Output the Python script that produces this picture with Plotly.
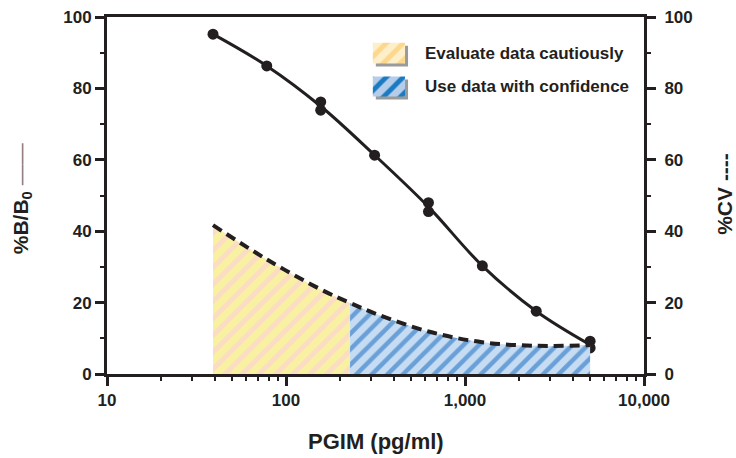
import plotly.graph_objects as go

# ---------------- data ----------------
conc_std = [39.1, 78.1, 156.3, 312.5, 625, 1250, 2500, 5000]
bb0_mean = [95.2, 86.3, 75.0, 61.3, 46.8, 30.3, 17.6, 8.2]

conc_pts = [39.1, 78.1, 156.3, 156.3, 312.5, 625, 625, 1250, 2500, 5000, 5000]
bb0_pts = [95.2, 86.3, 76.2, 73.9, 61.3, 48.0, 45.5, 30.3, 17.6, 9.2, 7.3]

cv_conc = [39.1, 78.1, 156.3, 228, 312.5, 625, 1250, 2500, 5000]
cv_vals = [41.7, 32.1, 23.7, 19.9, 17.0, 11.9, 8.9, 7.9, 8.1]
cv_split = 228  # boundary between "cautious" and "confident" zones

x_tickvals = [10, 100, 1000, 10000]
x_ticktext = ["10", "100", "1,000", "10,000"]
y_tickvals = [0, 20, 40, 60, 80, 100]

legend_labels = ["Evaluate data cautiously", "Use data with confidence"]

# ---------------- styles ----------------
INK = "#231f20"
FONT = "Liberation Sans, Arial, Helvetica, sans-serif"
YEL_BG, YEL_FG = "#f9f1a2", "#fbdcc4"
BLU_BG, BLU_FG = "#c6dcf2", "#6aa0d8"
LYEL_BG, LYEL_FG = "#fdefca", "#fdd88c"
LBLU_BG, LBLU_FG = "#b5cdea", "#1a7bc2"

fig = go.Figure()

# fills under CV curve
yx = [c for c in cv_conc if c <= cv_split]
yy = [v for c, v in zip(cv_conc, cv_vals) if c <= cv_split]
bx = [c for c in cv_conc if c >= cv_split]
by = [v for c, v in zip(cv_conc, cv_vals) if c >= cv_split]

fig.add_trace(go.Scatter(
    x=yx, y=yy, yaxis="y2", mode="lines", line=dict(width=0, shape="spline"),
    fill="tozeroy",
    fillpattern=dict(shape="/", bgcolor=YEL_BG, fgcolor=YEL_FG, size=12,
                     solidity=0.4, fgopacity=1),
    hoverinfo="skip", showlegend=False))
fig.add_trace(go.Scatter(
    x=bx, y=by, yaxis="y2", mode="lines", line=dict(width=0, shape="spline"),
    fill="tozeroy",
    fillpattern=dict(shape="/", bgcolor=BLU_BG, fgcolor=BLU_FG, size=11,
                     solidity=0.4, fgopacity=1),
    hoverinfo="skip", showlegend=False))

# CV dashed curve
fig.add_trace(go.Scatter(
    x=cv_conc, y=cv_vals, yaxis="y2", mode="lines",
    line=dict(color=INK, width=4, dash="10px,6px", shape="spline"),
    name="%CV", showlegend=False))

# B/B0 curve and points
fig.add_trace(go.Scatter(
    x=conc_std, y=bb0_mean, mode="lines",
    line=dict(color=INK, width=3, shape="spline"),
    name="%B/B0 fit", showlegend=False))
fig.add_trace(go.Scatter(
    x=conc_pts, y=bb0_pts, mode="markers",
    marker=dict(color=INK, size=11),
    name="%B/B0", showlegend=False))

# ---------------- custom legend (hidden overlay axes 0..1) ----------------
lx0, lx1 = 0.495, 0.555
boxes = [(0.870, 0.928, LYEL_BG, LYEL_FG), (0.777, 0.833, LBLU_BG, LBLU_FG)]
dx, dy = 3 / 537, 3 / 357
for (y0, y1, bg, fg), lab in zip(boxes, legend_labels):
    fig.add_shape(type="rect", xref="x3", yref="y3",
                  x0=lx0 + dx, x1=lx1 + dx, y0=y0 - dy, y1=y1 - dy,
                  fillcolor="#9a9a9a", line=dict(width=0), layer="below")
    fig.add_trace(go.Scatter(
        x=[lx0, lx1, lx1, lx0, lx0], y=[y0, y0, y1, y1, y0],
        xaxis="x3", yaxis="y3", mode="lines", line=dict(width=0),
        fill="toself",
        fillpattern=dict(shape="/", bgcolor=bg, fgcolor=fg, size=12,
                         solidity=0.4, fgopacity=1),
        hoverinfo="skip", showlegend=False))
    fig.add_annotation(x=0.588, y=(y0 + y1) / 2, xref="x3", yref="y3",
                       text=lab, showarrow=False, xanchor="left",
                       yanchor="middle",
                       font=dict(size=17, color=INK, family=FONT, weight="bold"))

# ---------------- axis titles ----------------
fig.add_annotation(x=0.5, y=-0.188, xref="paper", yref="paper",
                   text="PGIM (pg/ml)", showarrow=False, xanchor="center",
                   yanchor="middle",
                   font=dict(size=22, color=INK, family=FONT, weight="bold"))
fig.add_annotation(x=-0.158, y=0.49, xref="paper", yref="paper",
                   text="%B/B<sub>0</sub> <span style='color:#777777;font-weight:normal'>——</span>",
                   showarrow=False, textangle=-90, xanchor="center",
                   yanchor="middle",
                   font=dict(size=21, color=INK, family=FONT, weight="bold"))
fig.add_annotation(x=1.151, y=0.505, xref="paper", yref="paper",
                   text="%CV ----", showarrow=False, textangle=-90,
                   xanchor="center", yanchor="middle",
                   font=dict(size=21, color=INK, family=FONT, weight="bold"))

axis_common = dict(showgrid=False, zeroline=False, showline=True,
                   linecolor=INK, linewidth=3, ticks="outside", ticklen=9,
                   tickwidth=3, tickcolor=INK, automargin=False,
                   tickfont=dict(size=17, color=INK, family=FONT, weight="bold"))

fig.update_layout(
    width=736, height=458,
    margin=dict(l=107, r=92, t=17, b=84, autoexpand=False),
    paper_bgcolor="white", plot_bgcolor="white",
    font=dict(family=FONT, color=INK),
    xaxis=dict(type="log", range=[1, 4], tickvals=x_tickvals,
               ticktext=x_ticktext, mirror=True,
               minor=dict(dtick="D1", ticks="outside", ticklen=4,
                          tickwidth=2, tickcolor=INK),
               **axis_common),
    yaxis=dict(range=[0, 100], tickvals=y_tickvals,
               minor=dict(dtick=10, ticks="outside", ticklen=4, tickwidth=2,
                          tickcolor=INK),
               **axis_common),
    yaxis2=dict(range=[0, 100], tickvals=y_tickvals, overlaying="y",
                side="right", ticklabelstandoff=5,
                minor=dict(dtick=10, ticks="outside", ticklen=4, tickwidth=2,
                           tickcolor=INK),
                **axis_common),
    xaxis3=dict(overlaying="x", range=[0, 1], visible=False, anchor="y3",
                automargin=False),
    yaxis3=dict(overlaying="y", range=[0, 1], visible=False, anchor="x3",
                automargin=False),
)

fig.write_html("out.html",
               config={"displayModeBar": False},
               post_script="document.body.style.margin='0';"
                           "document.body.style.overflow='hidden';")
